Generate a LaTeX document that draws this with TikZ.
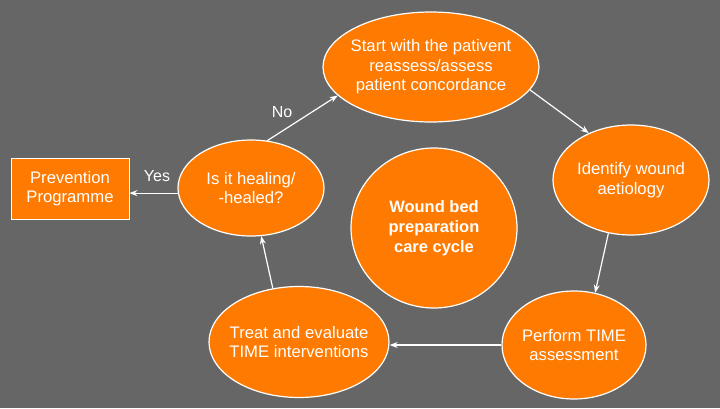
\documentclass[tikz,border=0pt]{standalone}
\usepackage{fontspec}
\setmainfont{Liberation Sans}
\usetikzlibrary{shapes.geometric,arrows.meta}
\definecolor{bggray}{RGB}{102,102,102}
\definecolor{woundorange}{RGB}{255,122,0}

\begin{document}
\begin{tikzpicture}[x=1pt,y=1pt,yscale=-1,
    stage/.style={ellipse,draw=white,line width=1.2pt,fill=woundorange,inner sep=0pt},
    stagetext/.style={align=center,text=white,inner sep=0pt,font=\fontsize{16.7}{19.5}\selectfont},
    cyclearrow/.style={draw=white,line width=1.2pt,-{Stealth[length=8pt,width=6pt]}},
    answer/.style={text=white,inner sep=0pt,font=\fontsize{16}{19}\selectfont}]
    \fill [bggray] (0,0) rectangle (720,408);
    \useasboundingbox (0,0) rectangle (720,408);
    % stages of the cycle
    \node [stage,minimum width=216,minimum height=110] (start) at (431,67) {};
    \node [stage,minimum width=156,minimum height=110] (ident) at (631,180) {};
    \node [stage,minimum width=144,minimum height=108] (perform) at (574,345) {};
    \node [stage,minimum width=180,minimum height=111] (treat) at (299,342) {};
    \node [stage,minimum width=146,minimum height=96] (heal) at (251,188) {};
    \node [stage,minimum width=166,minimum height=160] (cycle) at (434,228) {};
    \node [draw=white,line width=0.8pt,fill=woundorange,minimum width=118,minimum height=61,inner sep=0pt] (prev) at (70,188.5) {};
    \node [stagetext] (starttxt) at (start) {Start with the pativent\\reassess/assess\\patient concordance};
    \node [stagetext] (identtxt) at (ident) {Identify wound\\aetiology};
    \node [stagetext] (performtxt) at (perform) {Perform TIME\\assessment};
    \node [stagetext] (treattxt) at (treat) {Treat and evaluate\\TIME interventions};
    \node [stagetext] (healtxt) at (heal) {Is it healing/\\-healed?};
    \node [stagetext,font=\fontsize{16.5}{20}\selectfont\bfseries] (cycletxt) at (cycle) {Wound bed\\preparation\\care cycle};
    \node [stagetext] (prevtxt) at (prev) {Prevention\\Programme};
    % arrows
    \draw [cyclearrow] (heal.71) -- (start.197);
    \draw [cyclearrow] (start.347) -- (ident.132);
    \draw [cyclearrow] (ident.247) -- (perform.68);
    \draw [cyclearrow] (perform.west) -- (treat.east |- perform.west);
    \draw [cyclearrow] (treat.116) -- (heal.282);
    \draw [cyclearrow] (heal.184) -- (prev.east |- heal.184);
    \node [answer] (yes) at (157,176) {Yes};
    \node [answer] (no) at (282,112) {No};
\end{tikzpicture}
\end{document}
